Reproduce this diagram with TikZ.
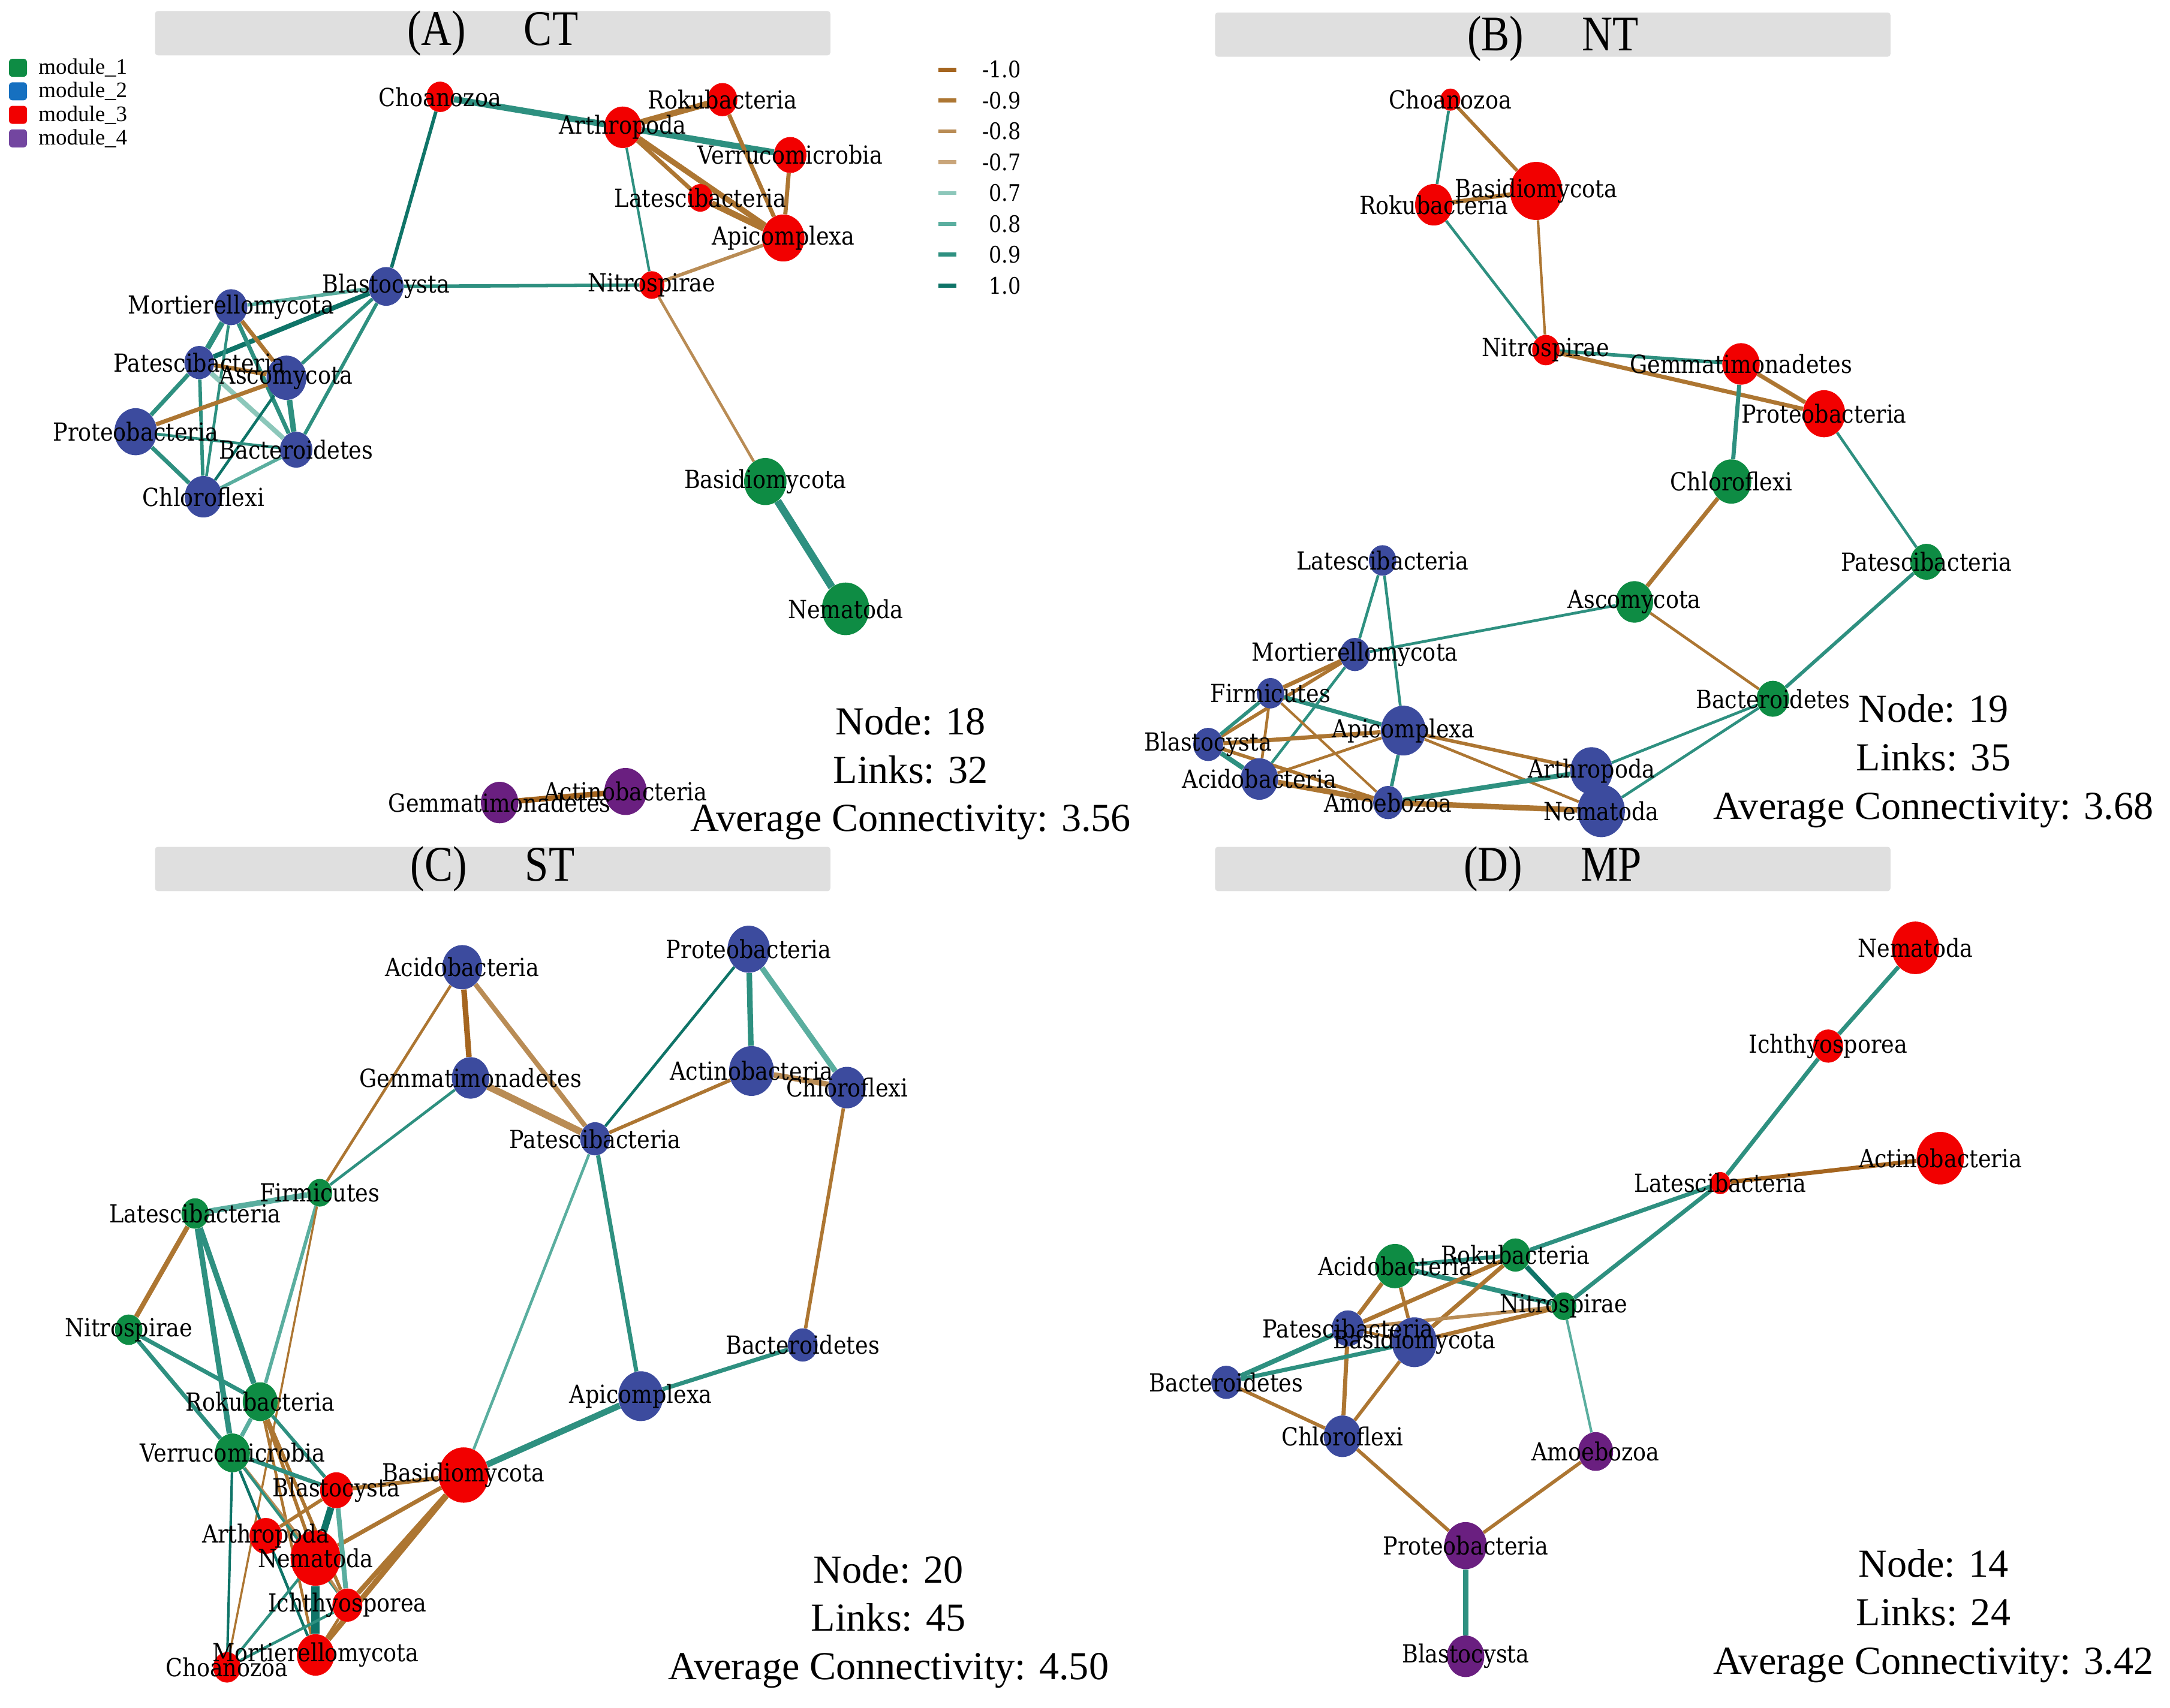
\documentclass[tikz,border=0pt]{standalone}
\usepackage{fontspec}
\setmainfont{Liberation Serif}
\newfontfamily\taxfont[FakeStretch=0.88]{DejaVu Serif}
\newfontfamily\headfont[FakeStretch=0.85]{Liberation Serif}
\usepackage{tikz}
\usetikzlibrary{shapes.geometric,positioning,backgrounds}

\definecolor{modgreen}{HTML}{0E8C44}
\definecolor{modblue}{HTML}{3C4B9E}
\definecolor{legblue}{HTML}{1670C0}
\definecolor{modred}{HTML}{F20000}
\definecolor{modpurple}{HTML}{6A1F80}
\definecolor{legpurple}{HTML}{7346A0}
\definecolor{negten}{HTML}{A5651F}
\definecolor{negnine}{HTML}{AD7632}
\definecolor{negeight}{HTML}{B98C55}
\definecolor{negseven}{HTML}{C9A57A}
\definecolor{posseven}{HTML}{8CC7BA}
\definecolor{poseight}{HTML}{5AAE9F}
\definecolor{posnine}{HTML}{2E9080}
\definecolor{posten}{HTML}{0F7468}
\definecolor{bargray}{HTML}{DFDFDF}

\tikzset{
  taxon/.style={ellipse, inner sep=0pt, minimum height=#1, minimum width={0.9*#1}},
  mod1/.style={fill=modgreen},
  mod2/.style={fill=modblue},
  mod3/.style={fill=modred},
  mod4/.style={fill=modpurple},
  lbl/.style={font=\taxfont\fontsize{18}{21}\selectfont, inner sep=0pt},
  neg10/.style={draw=negten},
  neg9/.style={draw=negnine},
  neg8/.style={draw=negeight},
  neg7/.style={draw=negseven},
  pos7/.style={draw=posseven},
  pos8/.style={draw=poseight},
  pos9/.style={draw=posnine},
  pos10/.style={draw=posten},
  legbox/.style={rounded corners=2.5pt, minimum size=13, inner sep=0pt},
  legtxt/.style={font=\fontsize{16}{18}\selectfont, inner sep=0pt},
  scaletxt/.style={font=\taxfont\fontsize{16.5}{18}\selectfont, inner sep=0pt},
  headbar/.style={fill=bargray, rounded corners=2pt, minimum width=488, minimum height=32, inner sep=0pt},
  headtxt/.style={font=\headfont\fontsize{36}{40}\selectfont, inner sep=0pt},
  stat/.style={align=center, font=\fontsize{28.7}{35}\selectfont, inner sep=0pt}
}

\begin{document}
\begin{tikzpicture}[x=1pt, y=-1pt]
\useasboundingbox (0,0) rectangle (1568,1234);

% module legend
\foreach \c/\t [count=\i] in {modgreen/module\_1, legblue/module\_2, modred/module\_3, legpurple/module\_4}{
  \node[legbox, fill=\c] (mod\i) at (13,32+17*\i) {};
  \node[legtxt, right=8pt of mod\i] {\t};
}

% correlation legend
\foreach \s/\v [count=\i] in {neg10/-1.0, neg9/-0.9, neg8/-0.8, neg7/-0.7, pos7/0.7, pos8/0.8, pos9/0.9, pos10/1.0}{
  \coordinate (cs\i) at (678,28+22.3*\i);
  \draw[\s, line width=3] (cs\i) -- ++(13,0);
  \node[scaletxt, anchor=east] at (738,28+22.3*\i) {\v};
}

% headers
\node[headbar] (barA) at (356,24) {};
\node[headtxt] at (barA) {(A)\hspace{42pt}CT};
\node[headbar] (barB) at (1122,25) {};
\node[headtxt] at (1122,28) {(B)\hspace{42pt}NT};
\node[headbar] (barC) at (356,628) {};
\node[headtxt] at (barC) {(C)\hspace{42pt}ST};
\node[headbar] (barD) at (1122,628) {};
\node[headtxt] at (barD) {(D)\hspace{42pt}MP};

% (A) CT
\foreach \nm/\x/\y/\m/\d in {Choanozoa/318/70/mod3/22, Arthropoda/450/92/mod3/30,
    Rokubacteria/522/72/mod3/24, Verrucomicrobia/571/112/mod3/26,
    Latescibacteria/506/143/mod3/20, Apicomplexa/566/172/mod3/34,
    Nitrospirae/471/206/mod3/20, Blastocysta/279/207/mod2/28,
    Mortierellomycota/167/222/mod2/26, Patescibacteria/144/262/mod2/24,
    Ascomycota/207/273/mod2/32, Proteobacteria/98/312/mod2/34,
    Bacteroidetes/214/325/mod2/26, Chloroflexi/147/359/mod2/30,
    Basidiomycota/553/348/mod1/34, Nematoda/611/440/mod1/38,
    Gemmatimonadetes/361/580/mod4/30, Actinobacteria/452/572/mod4/34}
  \node[taxon=\d, \m] (A\nm) at (\x,\y) {};
\begin{scope}[on background layer]
\foreach \a/\b/\c/\w in {Choanozoa/Arthropoda/pos9/4.5, Choanozoa/Blastocysta/pos10/2.5,
    Arthropoda/Rokubacteria/neg9/4.5, Arthropoda/Verrucomicrobia/pos9/4.5,
    Arthropoda/Latescibacteria/neg9/3, Arthropoda/Apicomplexa/neg9/4,
    Arthropoda/Nitrospirae/pos9/1.8, Rokubacteria/Apicomplexa/neg9/3,
    Verrucomicrobia/Apicomplexa/neg9/3, Latescibacteria/Apicomplexa/neg9/4.5,
    Apicomplexa/Nitrospirae/neg8/2.5, Nitrospirae/Blastocysta/pos9/2.5,
    Nitrospirae/Basidiomycota/neg8/2, Basidiomycota/Nematoda/pos9/5.5,
    Gemmatimonadetes/Actinobacteria/neg10/4,
    Blastocysta/Mortierellomycota/pos8/2.5, Blastocysta/Patescibacteria/pos10/3.5,
    Blastocysta/Ascomycota/pos9/2.5, Blastocysta/Bacteroidetes/pos9/2.5,
    Mortierellomycota/Patescibacteria/pos9/4, Mortierellomycota/Ascomycota/neg9/3,
    Mortierellomycota/Bacteroidetes/pos9/3, Mortierellomycota/Chloroflexi/pos9/2,
    Patescibacteria/Ascomycota/neg9/3, Patescibacteria/Proteobacteria/pos9/3,
    Patescibacteria/Chloroflexi/pos9/2.5, Patescibacteria/Bacteroidetes/pos7/3.5,
    Ascomycota/Proteobacteria/neg9/3, Ascomycota/Bacteroidetes/pos9/4,
    Ascomycota/Chloroflexi/pos10/2, Proteobacteria/Bacteroidetes/pos9/2,
    Proteobacteria/Chloroflexi/pos9/3, Chloroflexi/Bacteroidetes/pos8/2.5}
  \draw[\c, line width=\w] (A\a) -- (A\b);
\end{scope}
\node[stat] (statA) at (658,559) {Node: 18\\Links: 32\\Average Connectivity: 3.56};

% (B) NT
\foreach \nm/\x/\y/\m/\d in {Choanozoa/1048/72/mod3/16, Basidiomycota/1110/138/mod3/42,
    Rokubacteria/1036/148/mod3/30, Nitrospirae/1117/253/mod3/22,
    Gemmatimonadetes/1258/263/mod3/30, Proteobacteria/1318/299/mod3/34,
    Chloroflexi/1251/348/mod1/32, Patescibacteria/1392/406/mod1/26,
    Ascomycota/1181/435/mod1/30, Bacteroidetes/1281/505/mod1/26,
    Latescibacteria/999/405/mod2/22, Mortierellomycota/979/473/mod2/24,
    Firmicutes/918/501/mod2/22, Apicomplexa/1014/528/mod2/36,
    Blastocysta/873/538/mod2/24, Acidobacteria/910/563/mod2/30,
    Amoebozoa/1003/580/mod2/24, Arthropoda/1150/557/mod2/34,
    Nematoda/1157/586/mod2/38}
  \node[taxon=\d, \m] (B\nm) at (\x,\y) {};
\begin{scope}[on background layer]
\foreach \a/\b/\c/\w in {Choanozoa/Rokubacteria/pos9/2, Choanozoa/Basidiomycota/neg9/2.5,
    Rokubacteria/Basidiomycota/neg9/3, Rokubacteria/Nitrospirae/pos9/2,
    Basidiomycota/Nitrospirae/neg9/1.8, Nitrospirae/Gemmatimonadetes/pos9/2.5,
    Nitrospirae/Proteobacteria/neg9/3, Gemmatimonadetes/Proteobacteria/neg9/3,
    Gemmatimonadetes/Chloroflexi/pos9/3, Proteobacteria/Patescibacteria/pos9/2,
    Chloroflexi/Ascomycota/neg9/3, Ascomycota/Mortierellomycota/pos9/2,
    Ascomycota/Bacteroidetes/neg9/2, Patescibacteria/Bacteroidetes/pos9/2.5,
    Bacteroidetes/Arthropoda/pos9/2, Bacteroidetes/Nematoda/pos9/2,
    Latescibacteria/Mortierellomycota/pos9/2, Latescibacteria/Apicomplexa/pos9/2,
    Mortierellomycota/Firmicutes/neg9/3, Mortierellomycota/Blastocysta/neg9/2.5,
    Mortierellomycota/Acidobacteria/pos9/2, Firmicutes/Blastocysta/pos9/2.5,
    Firmicutes/Acidobacteria/neg9/2, Firmicutes/Apicomplexa/pos9/3,
    Firmicutes/Amoebozoa/neg9/1.8, Blastocysta/Apicomplexa/neg9/3,
    Blastocysta/Acidobacteria/pos9/3.5, Blastocysta/Amoebozoa/neg9/2.5,
    Acidobacteria/Apicomplexa/neg9/2, Acidobacteria/Amoebozoa/neg9/4,
    Apicomplexa/Amoebozoa/pos9/2.5, Apicomplexa/Arthropoda/neg9/2.5,
    Apicomplexa/Nematoda/neg9/2, Amoebozoa/Arthropoda/pos9/3.5,
    Amoebozoa/Nematoda/neg9/4}
  \draw[\c, line width=\w] (B\a) -- (B\b);
\end{scope}
\node[stat] (statB) at (1397,550) {Node: 19\\Links: 35\\Average Connectivity: 3.68};

% (C) ST
\foreach \nm/\x/\y/\m/\d in {Acidobacteria/334/699/mod2/32, Proteobacteria/541/686/mod2/34,
    Gemmatimonadetes/340/779/mod2/30, Actinobacteria/543/774/mod2/36,
    Chloroflexi/612/786/mod2/30, Patescibacteria/430/823/mod2/24,
    Bacteroidetes/580/972/mod2/24, Apicomplexa/463/1009/mod2/36,
    Firmicutes/231/862/mod1/20, Latescibacteria/141/877/mod1/22,
    Nitrospirae/93/961/mod1/22, Rokubacteria/188/1013/mod1/28,
    Verrucomicrobia/168/1050/mod1/28, Basidiomycota/335/1066/mod3/40,
    Blastocysta/243/1077/mod3/26, Arthropoda/192/1110/mod3/26,
    Nematoda/228/1126/mod3/40, Ichthyosporea/251/1160/mod3/24,
    Mortierellomycota/228/1196/mod3/30, Choanozoa/164/1205/mod3/22}
  \node[taxon=\d, \m] (C\nm) at (\x,\y) {};
\begin{scope}[on background layer]
\foreach \a/\b/\c/\w in {Acidobacteria/Gemmatimonadetes/neg10/4, Acidobacteria/Patescibacteria/neg8/3.5,
    Acidobacteria/Firmicutes/neg9/2, Gemmatimonadetes/Patescibacteria/neg8/5,
    Gemmatimonadetes/Firmicutes/pos9/2, Proteobacteria/Actinobacteria/pos9/4,
    Proteobacteria/Chloroflexi/pos8/4, Proteobacteria/Patescibacteria/pos10/2,
    Actinobacteria/Patescibacteria/neg9/2.5, Actinobacteria/Chloroflexi/neg8/4,
    Chloroflexi/Bacteroidetes/neg9/2.5, Patescibacteria/Apicomplexa/pos9/3,
    Patescibacteria/Basidiomycota/pos8/2, Apicomplexa/Bacteroidetes/pos9/3,
    Apicomplexa/Basidiomycota/pos9/4.5, Firmicutes/Latescibacteria/pos8/4,
    Firmicutes/Rokubacteria/pos8/2.5, Firmicutes/Choanozoa/neg9/1.5,
    Latescibacteria/Nitrospirae/neg9/3.5, Latescibacteria/Rokubacteria/pos9/4,
    Latescibacteria/Verrucomicrobia/pos9/4, Nitrospirae/Rokubacteria/pos9/3,
    Nitrospirae/Verrucomicrobia/pos9/3, Rokubacteria/Verrucomicrobia/pos8/3,
    Rokubacteria/Blastocysta/pos9/2.5, Rokubacteria/Nematoda/neg9/2.5,
    Rokubacteria/Ichthyosporea/neg9/2.5, Rokubacteria/Mortierellomycota/neg9/2,
    Verrucomicrobia/Blastocysta/pos9/3, Verrucomicrobia/Choanozoa/pos10/1.8,
    Verrucomicrobia/Nematoda/neg8/2.5, Verrucomicrobia/Mortierellomycota/pos10/2,
    Verrucomicrobia/Ichthyosporea/pos9/2, Basidiomycota/Blastocysta/neg9/3,
    Basidiomycota/Nematoda/neg9/3, Basidiomycota/Ichthyosporea/neg9/3.5,
    Basidiomycota/Mortierellomycota/neg9/4, Blastocysta/Arthropoda/neg9/2.5,
    Blastocysta/Nematoda/pos10/5, Blastocysta/Ichthyosporea/pos8/3.5,
    Nematoda/Mortierellomycota/pos10/6, Nematoda/Ichthyosporea/neg8/2,
    Ichthyosporea/Mortierellomycota/neg9/2, Choanozoa/Nematoda/pos9/2,
    Choanozoa/Ichthyosporea/pos9/2}
  \draw[\c, line width=\w] (C\a) -- (C\b);
\end{scope}
\node[stat] (statC) at (642,1172) {Node: 20\\Links: 45\\Average Connectivity: 4.50};

% (D) MP
\foreach \nm/\x/\y/\m/\d in {Nematoda/1384/685/mod3/38, Ichthyosporea/1321/756/mod3/24,
    Actinobacteria/1402/837/mod3/38, Latescibacteria/1243/855/mod3/16,
    Acidobacteria/1008/915/mod1/32, Rokubacteria/1095/907/mod1/24,
    Nitrospirae/1130/944/mod1/20, Patescibacteria/974/960/mod2/26,
    Basidiomycota/1022/970/mod2/36, Bacteroidetes/886/999/mod2/24,
    Chloroflexi/970/1038/mod2/30, Amoebozoa/1153/1049/mod4/28,
    Proteobacteria/1059/1117/mod4/34, Blastocysta/1059/1197/mod4/30}
  \node[taxon=\d, \m] (D\nm) at (\x,\y) {};
\begin{scope}[on background layer]
\foreach \a/\b/\c/\w in {Nematoda/Ichthyosporea/pos9/3, Ichthyosporea/Latescibacteria/pos9/3,
    Latescibacteria/Actinobacteria/neg10/3, Latescibacteria/Rokubacteria/pos9/3,
    Latescibacteria/Nitrospirae/pos9/3, Acidobacteria/Rokubacteria/pos9/3,
    Acidobacteria/Nitrospirae/pos9/3.5, Acidobacteria/Patescibacteria/neg9/3,
    Acidobacteria/Basidiomycota/neg9/2.5, Rokubacteria/Nitrospirae/pos10/3.5,
    Rokubacteria/Patescibacteria/neg9/3, Rokubacteria/Basidiomycota/neg9/3,
    Nitrospirae/Patescibacteria/neg8/2.5, Nitrospirae/Basidiomycota/neg9/3,
    Nitrospirae/Amoebozoa/pos8/1.8, Patescibacteria/Bacteroidetes/pos9/3.5,
    Patescibacteria/Chloroflexi/neg9/3, Patescibacteria/Basidiomycota/neg9/2,
    Basidiomycota/Bacteroidetes/pos9/3, Basidiomycota/Chloroflexi/neg9/2.5,
    Bacteroidetes/Chloroflexi/neg9/2.5, Chloroflexi/Proteobacteria/neg9/2.5,
    Amoebozoa/Proteobacteria/neg9/2.5, Proteobacteria/Blastocysta/pos9/4}
  \draw[\c, line width=\w] (D\a) -- (D\b);
\end{scope}
\node[stat] (statD) at (1397,1168) {Node: 14\\Links: 24\\Average Connectivity: 3.42};

% labels on top of all nodes
\foreach \nm in {Choanozoa, Arthropoda, Rokubacteria, Verrucomicrobia, Latescibacteria,
    Apicomplexa, Nitrospirae, Blastocysta, Mortierellomycota, Patescibacteria, Ascomycota,
    Proteobacteria, Bacteroidetes, Chloroflexi, Basidiomycota, Nematoda,
    Gemmatimonadetes, Actinobacteria}
  \node[lbl] at (A\nm) {\nm};
\foreach \nm in {Choanozoa, Basidiomycota, Rokubacteria, Nitrospirae, Gemmatimonadetes,
    Proteobacteria, Chloroflexi, Patescibacteria, Ascomycota, Bacteroidetes,
    Latescibacteria, Mortierellomycota, Firmicutes, Apicomplexa, Blastocysta,
    Acidobacteria, Amoebozoa, Arthropoda, Nematoda}
  \node[lbl] at (B\nm) {\nm};
\foreach \nm in {Acidobacteria, Proteobacteria, Gemmatimonadetes, Actinobacteria,
    Chloroflexi, Patescibacteria, Bacteroidetes, Apicomplexa, Firmicutes, Latescibacteria,
    Nitrospirae, Rokubacteria, Verrucomicrobia, Basidiomycota, Blastocysta, Arthropoda,
    Nematoda, Ichthyosporea, Mortierellomycota, Choanozoa}
  \node[lbl] at (C\nm) {\nm};
\foreach \nm in {Nematoda, Ichthyosporea, Actinobacteria, Latescibacteria, Acidobacteria,
    Rokubacteria, Nitrospirae, Patescibacteria, Basidiomycota, Bacteroidetes, Chloroflexi,
    Amoebozoa, Proteobacteria, Blastocysta}
  \node[lbl] at (D\nm) {\nm};
\end{tikzpicture}
\end{document}
